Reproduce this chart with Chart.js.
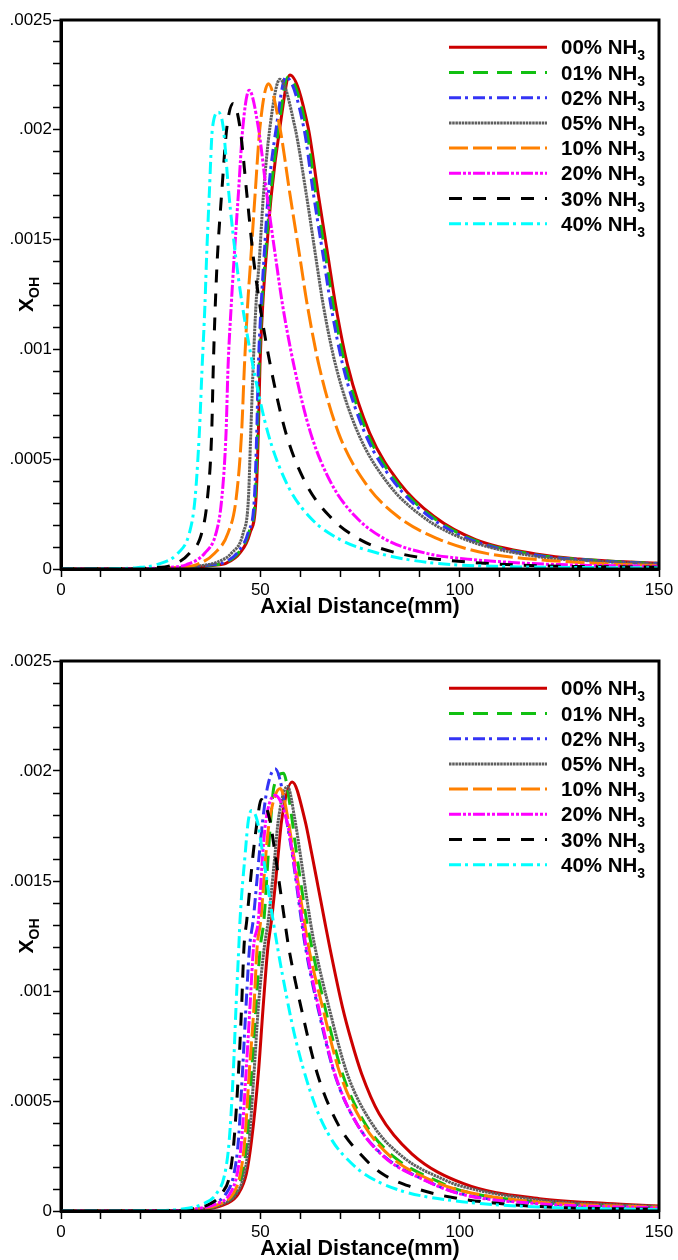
<!DOCTYPE html>
<html>
<head>
<meta charset="utf-8">
<script src="https://cdn.jsdelivr.net/npm/chart.js@4.4.0/dist/chart.umd.min.js"></script>
<style>
    body { margin: 0; background: #fff; }
    canvas { display: block; }
</style>
</head>
<body>
<canvas id="topChart" width="678" height="630"></canvas>
<canvas id="bottomChart" width="678" height="630"></canvas>
<script>
// legend names, colours and dash styles (same for both panels)
const seriesNames = ['00%', '01%', '02%', '05%', '10%', '20%', '30%', '40%'];
const lineColors = ['#cc0000', '#11c011', '#3434f5', '#5f5f5f', '#ff8000', '#ff00ff', '#000000', '#00ffff'];
const lineDashes = [[], [15, 9], [12, 4, 3, 5], [2.5, 0.7], [19, 5], [12, 2, 3, 2, 3, 2], [13, 11], [12, 4, 3, 5]];

// axis ticks
const xTickLabels = ['0', '50', '100', '150'];
const yTickLabels = ['0', '.0005', '.001', '.0015', '.002', '.0025'];

// top panel: [axial distance (mm), X_OH]
const top00 = [[0, 0], [25, 0.000001], [32, 0.000006], [38, 0.000016], [41.5, 0.000027], [44.9, 0.000073], [47.4, 0.000164], [48.9, 0.000316], [49.5, 0.00062], [49.9, 0.00092], [50.6, 0.0012], [51.4, 0.00141], [52.8, 0.00171], [54.9, 0.00201], [57.4, 0.00225], [62.0, 0.00201], [64.5, 0.00171], [67.1, 0.00141], [68.9, 0.0012], [72, 0.00092], [77.4, 0.00062], [85, 0.00039], [93.5, 0.00024], [104, 0.000134], [120, 0.000066], [130, 0.000045], [140, 0.000034], [150, 0.000026]];
const top01 = [[0, 0], [25, 0.000001], [32, 0.000007], [38, 0.000018], [41.3, 0.00003], [44.7, 0.000078], [47.2, 0.00017], [48.7, 0.00032], [49.3, 0.00062], [49.7, 0.00092], [50.4, 0.0012], [51.2, 0.00141], [52.6, 0.00171], [54.6, 0.00201], [56.9, 0.00224], [61.5, 0.00201], [63.9, 0.00171], [66.5, 0.00141], [68.3, 0.0012], [71.4, 0.00092], [76.8, 0.00062], [84.4, 0.00039], [92.9, 0.00024], [103.3, 0.000134], [120, 0.000062], [130, 0.000044], [140, 0.000033], [150, 0.000025]];
const top02 = [[0, 0], [25, 0.000001], [32, 0.000008], [38, 0.00002], [41.2, 0.000032], [44.5, 0.00008], [47, 0.00017], [48.5, 0.00032], [49.1, 0.00062], [49.5, 0.00092], [50.2, 0.0012], [50.9, 0.00141], [52, 0.00171], [54, 0.00201], [56.4, 0.00224], [60.9, 0.00201], [63.3, 0.00171], [65.9, 0.00141], [67.7, 0.0012], [70.8, 0.00092], [76.2, 0.00062], [83.8, 0.00039], [92.3, 0.00024], [102.6, 0.000134], [120, 0.00006], [130, 0.000043], [140, 0.000032], [150, 0.000024]];
const top05 = [[0, 0], [25, 0.000002], [32, 0.00001], [36, 0.000018], [39, 0.00003], [42.8, 0.000073], [45.7, 0.000164], [47, 0.000316], [47.6, 0.00062], [48.2, 0.00092], [48.9, 0.0012], [49.75, 0.00141], [50.8, 0.00171], [52.4, 0.00201], [54.9, 0.00223], [58.7, 0.00201], [61.5, 0.00171], [64, 0.00141], [65.8, 0.0012], [69, 0.00092], [74.5, 0.00062], [82, 0.00039], [90.6, 0.00024], [101.5, 0.000134], [120, 0.000055], [130, 0.00004], [140, 0.00003], [150, 0.000022]];
const top10 = [[0, 0], [20, 0.000001], [28, 0.000006], [34, 0.00002], [38.6, 0.000073], [41.9, 0.000164], [43.9, 0.000316], [45.3, 0.00062], [46, 0.00092], [46.8, 0.0012], [47.6, 0.00141], [48.7, 0.00171], [49.9, 0.00201], [52, 0.00221], [54.9, 0.00201], [57.4, 0.00171], [60, 0.00141], [61.8, 0.0012], [64.8, 0.00092], [69.6, 0.00062], [76.4, 0.00039], [84.4, 0.00024], [95, 0.000134], [107, 0.00007], [118, 0.000045], [130, 0.00003], [140, 0.000021], [150, 0.000016]];
const top20 = [[0, 0], [18, 0.000001], [26, 0.000006], [31.5, 0.00002], [36.1, 0.000073], [38.9, 0.000164], [40.3, 0.000316], [41.4, 0.00062], [41.9, 0.00092], [42.7, 0.0012], [43.4, 0.00141], [44.5, 0.00171], [45.6, 0.00201], [47.2, 0.00218], [49.5, 0.00201], [51.6, 0.00171], [53.9, 0.00141], [55.6, 0.0012], [58.5, 0.00092], [62.6, 0.00062], [67.8, 0.00039], [73.8, 0.00024], [81.5, 0.000134], [92, 0.00007], [102, 0.000045], [113, 0.00003], [125, 0.00002], [150, 0.000012]];
const top30 = [[0, 0], [15, 0.000001], [23, 0.000006], [28.2, 0.00002], [32.3, 0.000073], [35.3, 0.000164], [36.7, 0.000316], [37.8, 0.00062], [38.2, 0.00092], [38.7, 0.0012], [39.2, 0.00141], [40.3, 0.00171], [41.6, 0.00201], [43.2, 0.00212], [44.9, 0.00201], [46.6, 0.00171], [48.3, 0.00141], [49.9, 0.0012], [52.6, 0.00092], [56.4, 0.00062], [61.4, 0.00039], [67.4, 0.00024], [75, 0.000134], [85, 0.00007], [97, 0.00004], [115, 0.000018], [150, 0.000008]];
const top40 = [[0, 0], [12, 0.000001], [19, 0.000006], [24, 0.00002], [29.4, 0.000073], [32.2, 0.000164], [33.6, 0.000316], [34.7, 0.00062], [35.4, 0.00092], [36.1, 0.0012], [36.5, 0.00141], [37.2, 0.00171], [38, 0.00201], [39.5, 0.00208], [40.7, 0.00201], [42.1, 0.00171], [43.9, 0.00141], [45.5, 0.0012], [48.2, 0.00092], [51.9, 0.00062], [56.6, 0.00039], [62.2, 0.00024], [70, 0.000134], [80, 0.00007], [92, 0.00003], [110, 0.000012], [150, 0.000005]];

// bottom panel
const bot00 = [[0, 0], [30, 0.000002], [36, 0.000008], [41.5, 0.000033], [44.5, 0.000079], [46.5, 0.00017], [47.8, 0.000321], [49.5, 0.000624], [50.7, 0.000927], [51.9, 0.0012], [52.8, 0.001321], [53.7, 0.001473], [54.5, 0.001624], [55.35, 0.001776], [58, 0.00195], [61.2, 0.001776], [62.9, 0.001624], [64.5, 0.001473], [66.1, 0.001321], [67.4, 0.0012], [70.6, 0.000927], [72.8, 0.000776], [75.4, 0.000624], [79.8, 0.000442], [88, 0.00026], [101, 0.000124], [120, 0.000056], [137, 0.000034], [150, 0.000023]];
const bot01 = [[0, 0], [30, 0.000002], [35, 0.000008], [40.3, 0.000033], [43.6, 0.000079], [45.5, 0.00017], [46.7, 0.000321], [47.8, 0.000624], [48.9, 0.000927], [50, 0.0012], [50.9, 0.001321], [52, 0.001624], [52.6, 0.001776], [53.4, 0.001927], [55.8, 0.00199], [57.4, 0.00185], [59.1, 0.001624], [61.6, 0.001321], [62.9, 0.0012], [66.2, 0.000927], [70.6, 0.000624], [76.3, 0.000397], [83.6, 0.000245], [94, 0.000139], [101, 0.00009], [120, 0.00004], [150, 0.000018]];
const bot02 = [[0, 0], [28, 0.000002], [33, 0.000008], [38.2, 0.000033], [41.4, 0.000079], [43.4, 0.00017], [44.5, 0.000321], [45.5, 0.000624], [46.4, 0.000927], [47.3, 0.0012], [48.2, 0.001321], [49.75, 0.001624], [50.6, 0.001776], [51.8, 0.001927], [53.7, 0.00201], [55.35, 0.001927], [56.6, 0.001776], [58, 0.001624], [60.3, 0.001321], [61.3, 0.0012], [64.4, 0.000927], [68.6, 0.000624], [74.2, 0.000397], [81.3, 0.000245], [91.5, 0.000139], [100, 0.00008], [120, 0.000035], [150, 0.000015]];
const bot05 = [[0, 0], [30, 0.000002], [35, 0.000008], [40.7, 0.000033], [44, 0.000079], [46, 0.00017], [47.2, 0.000321], [48.4, 0.000624], [49.5, 0.000927], [51, 0.0012], [52, 0.001321], [53.7, 0.001624], [54.5, 0.001776], [56.8, 0.00193], [58.7, 0.001776], [60, 0.001624], [62.5, 0.001321], [63.7, 0.0012], [67.2, 0.000927], [71.8, 0.000624], [78, 0.000397], [85.8, 0.000245], [96.5, 0.000139], [100, 0.000115], [120, 0.00005], [150, 0.00002]];
const bot10 = [[0, 0], [29, 0.000002], [34, 0.000008], [39.9, 0.000033], [43.2, 0.000079], [45, 0.00017], [46.1, 0.000321], [47.2, 0.000624], [48.4, 0.000927], [49.2, 0.0012], [50.1, 0.001321], [51.4, 0.001624], [52.3, 0.001776], [55, 0.00192], [57, 0.001776], [58.3, 0.001624], [61, 0.001321], [62.1, 0.0012], [65.6, 0.000927], [70, 0.000624], [75.8, 0.000397], [82.8, 0.000245], [93, 0.000139], [101, 0.00009], [120, 0.00004], [150, 0.000017]];
const bot20 = [[0, 0], [28, 0.000002], [33, 0.000008], [39, 0.000033], [42.4, 0.000079], [44.2, 0.00017], [45.3, 0.000321], [46.4, 0.000624], [47.4, 0.000927], [48.3, 0.0012], [49.5, 0.001321], [50.6, 0.001624], [51.4, 0.001776], [53.7, 0.00189], [56.6, 0.001776], [58.1, 0.001624], [60.5, 0.001321], [61.5, 0.0012], [64.6, 0.000927], [68.7, 0.000624], [74.2, 0.000397], [81.1, 0.000245], [91.3, 0.000139], [100, 0.000078], [120, 0.000033], [150, 0.000014]];
const bot30 = [[0, 0], [27, 0.000002], [32, 0.000008], [37.4, 0.000033], [40.3, 0.000079], [42.4, 0.00017], [43.4, 0.000321], [44.5, 0.000624], [45.3, 0.000927], [45.9, 0.0012], [46.6, 0.001321], [48.2, 0.001624], [49.25, 0.001776], [50.2, 0.00187], [52.4, 0.001776], [53.7, 0.001624], [54.9, 0.001473], [56.1, 0.001321], [57.1, 0.0012], [60.2, 0.000927], [64.3, 0.000624], [69.4, 0.000397], [75.8, 0.000245], [80.5, 0.00017], [88, 0.000109], [97.5, 0.000064], [120, 0.00002], [150, 0.000008]];
const bot40 = [[0, 0], [25, 0.000002], [30, 0.000008], [35.7, 0.000033], [39, 0.000079], [41.1, 0.00017], [42.2, 0.000321], [43.2, 0.000624], [43.9, 0.000927], [44.6, 0.0012], [44.9, 0.001321], [46.2, 0.001624], [47, 0.001776], [47.8, 0.00182], [49.2, 0.001776], [50.6, 0.001624], [51.9, 0.001473], [53.2, 0.001321], [54.3, 0.0012], [55.5, 0.001078], [58.9, 0.000776], [63.9, 0.000473], [68, 0.000321], [71.3, 0.000245], [76, 0.00017], [85, 0.000094], [98, 0.000048], [120, 0.000018], [150, 0.000006]];

const FONT = '"Liberation Sans", Arial, sans-serif';

// frame, legend and y title drawn on top of the chart
const decorPlugin = {
    id: 'decor',
    afterDraw(chart) {
        const {ctx, chartArea: a} = chart;
        ctx.save();
        // box round the plot
        ctx.strokeStyle = '#000';
        ctx.lineWidth = 3;
        ctx.setLineDash([]);
        ctx.strokeRect(a.left, a.top, a.right - a.left, a.bottom - a.top);

        // legend
        chart.data.datasets.forEach((ds, i) => {
            const y = a.top + 27.3 + i * 25.2;
            ctx.strokeStyle = ds.borderColor;
            ctx.lineWidth = 3;
            ctx.setLineDash(ds.borderDash);
            ctx.beginPath();
            ctx.moveTo(a.right - 210, y);
            ctx.lineTo(a.right - 112, y);
            ctx.stroke();
            ctx.setLineDash([]);
            ctx.fillStyle = '#000';
            ctx.textBaseline = 'alphabetic';
            ctx.textAlign = 'left';
            ctx.font = `bold 20.5px ${FONT}`;
            const txt = seriesNames[i] + ' NH';
            ctx.fillText(txt, a.right - 98, y + 7);
            const w = ctx.measureText(txt).width;
            ctx.font = `bold 14px ${FONT}`;
            ctx.fillText('3', a.right - 98 + w, y + 13);
        });

        // y axis title X_OH
        ctx.translate(26, (a.top + a.bottom) / 2);
        ctx.rotate(-Math.PI / 2);
        ctx.fillStyle = '#000';
        ctx.font = `bold 21px ${FONT}`;
        const wx = ctx.measureText('X').width;
        ctx.font = `bold 14px ${FONT}`;
        const wo = ctx.measureText('OH').width;
        const start = -(wx + wo) / 2;
        ctx.font = `bold 21px ${FONT}`;
        ctx.fillText('X', start, 7);
        ctx.font = `bold 14px ${FONT}`;
        ctx.fillText('OH', start + wx, 13);
        ctx.restore();
    }
};

const makeChart = (id, series, padTop, xHeight, titlePad) => {
    new Chart(document.getElementById(id), {
        type: 'line',
        data: {
            datasets: series.map((pts, i) => ({
                label: seriesNames[i] + ' NH3',
                data: pts.map(p => ({x: p[0], y: p[1]})),
                borderColor: lineColors[i],
                borderDash: lineDashes[i],
                borderWidth: 3,
                pointRadius: 0,
                cubicInterpolationMode: 'monotone',
                fill: false,
                order: series.length - i
            }))
        },
        options: {
            responsive: false,
            animation: false,
            devicePixelRatio: 1,
            layout: {padding: {top: padTop, right: 19, left: 0, bottom: 0}},
            plugins: {legend: {display: false}, tooltip: {enabled: false}},
            scales: {
                x: {
                    type: 'linear',
                    min: 0,
                    max: 150,
                    afterFit: s => { s.height = xHeight; },
                    ticks: {
                        stepSize: 10,
                        autoSkip: false,
                        maxRotation: 0,
                        padding: 3,
                        color: '#000',
                        font: {family: FONT, size: 17},
                        callback: v => (Math.round(v) % 50 === 0 ? xTickLabels[Math.round(v) / 50] : '')
                    },
                    grid: {drawOnChartArea: false, tickLength: 8, tickWidth: 1.5, tickColor: '#000'},
                    border: {color: '#000', width: 3},
                    title: {
                        display: true,
                        text: 'Axial Distance(mm)',
                        color: '#000',
                        font: {family: FONT, size: 21.5, weight: 'bold', lineHeight: 1},
                        padding: {top: 0, bottom: titlePad}
                    }
                },
                y: {
                    type: 'linear',
                    min: 0,
                    max: 0.0025,
                    afterFit: s => { s.width = 61; },
                    ticks: {
                        stepSize: 0.0001,
                        maxTicksLimit: 100,
                        autoSkip: false,
                        padding: 1,
                        color: '#000',
                        font: {family: FONT, size: 17},
                        callback: v => {
                            const k = Math.round(v * 10000);
                            return k % 5 === 0 ? yTickLabels[k / 5] : '';
                        }
                    },
                    grid: {drawOnChartArea: false, tickLength: 8, tickWidth: 1.5, tickColor: '#000'},
                    border: {color: '#000', width: 3}
                }
            }
        },
        plugins: [decorPlugin]
    });
};

window.onload = () => {
    makeChart('topChart', [top00, top01, top02, top05, top10, top20, top30, top40], 20, 61, 12.5);
    makeChart('bottomChart', [bot00, bot01, bot02, bot05, bot10, bot20, bot30, bot40], 31, 49, 0);
};
</script>
</body>
</html>
